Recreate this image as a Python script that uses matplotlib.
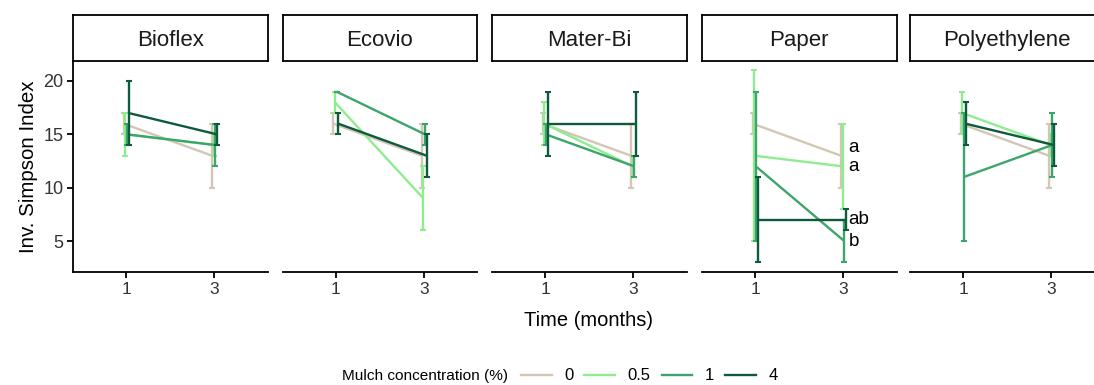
import matplotlib
matplotlib.use("Agg")
import matplotlib.pyplot as plt
from matplotlib.lines import Line2D
import numpy as np

plt.rcParams['font.family'] = ['Liberation Sans', 'DejaVu Sans']

materials = ["Bioflex", "Ecovio", "Mater-Bi", "Paper", "Polyethylene"]
times = ["1", "3"]
concentrations = ["0", "0.5", "1", "4"]

# mean, lower, upper per material: [month1, month3]
mean_0 = [[16, 13], [16, 13], [16, 13], [16, 13], [16, 13]]
low_0 = [[15, 10], [15, 10], [15, 10], [15, 10], [15, 10]]
high_0 = [[17, 16], [17, 16], [17, 16], [17, 16], [17, 16]]

mean_05 = [[15, 14], [18, 9], [16, 12], [13, 12], [17, 14]]
low_05 = [[13, 13], [17, 6], [14, 11], [5, 8], [15, 13]]
high_05 = [[17, 15], [19, 12], [18, 13], [21, 16], [19, 15]]

mean_1 = [[15, 14], [19, 15], [15, 12], [12, 5], [11, 14]]
low_1 = [[14, 12], [19, 14], [14, 11], [5, 3], [5, 11]]
high_1 = [[16, 16], [19, 16], [16, 13], [19, 7], [17, 17]]

mean_4 = [[17, 15], [16, 13], [16, 16], [7, 7], [16, 14]]
low_4 = [[14, 14], [15, 11], [13, 13], [3, 6], [14, 12]]
high_4 = [[20, 16], [17, 15], [19, 19], [11, 8], [18, 16]]

paper_letters = ["a", "a", "b", "ab"]
paper_letter_y = [13.8, 12, 5, 7]

colors = ["#D3C6B5", "#8FEC8F", "#3DA46B", "#0E5A3D"]

series = [(mean_0, low_0, high_0), (mean_05, low_05, high_05),
          (mean_1, low_1, high_1), (mean_4, low_4, high_4)]

W, H = 1094, 385
fig = plt.figure(figsize=(W / 100, H / 100), dpi=100)

panel_left = [73, 282.7, 492, 702, 910]
pw = 194.5
p_top, p_bot = 60.7, 272
s_top = 15

dodge = [-0.028, -0.009, 0.009, 0.028]
xpos = np.arange(len(times))

for mi, mat in enumerate(materials):
    l = panel_left[mi] / W
    ax = fig.add_axes([l, 1 - p_bot / H, pw / W, (p_bot - p_top) / H])
    sax = fig.add_axes([l, 1 - p_top / H, pw / W, (p_top - s_top) / H])
    sax.set_xticks([]); sax.set_yticks([])
    for sp in sax.spines.values():
        sp.set_linewidth(1.3); sp.set_color("black")
    sax.text(0.5, 0.45, mat, ha="center", va="center", fontsize=16,
             color="#1a1a1a", transform=sax.transAxes)

    for ci, (m, lo, hi) in enumerate(series):
        x = xpos + dodge[ci]
        mv = np.array(m[mi]); lv = np.array(lo[mi]); hv = np.array(hi[mi])
        ax.plot(x, mv, color=colors[ci], lw=1.7, solid_capstyle="butt", zorder=2 + ci)
        ax.errorbar(x, mv, yerr=[mv - lv, hv - mv], fmt="none", ecolor=colors[ci],
                    elinewidth=1.7, capsize=2, capthick=1.5, zorder=2 + ci)

    if mat == "Paper":
        for lab, yy in zip(paper_letters, paper_letter_y):
            ax.text(1.055, yy, lab, ha="left", va="center", fontsize=13.5, color="black")

    ax.set_xlim(-0.6, 1.6)
    ax.set_ylim(2.1, 21.9)
    ax.set_xticks(xpos)
    ax.set_xticklabels(times, fontsize=12.5, color="#333333")
    ax.set_yticks([5, 10, 15, 20])
    for sp in ["top", "right"]:
        ax.spines[sp].set_visible(False)
    ax.spines["bottom"].set_linewidth(1.3)
    ax.tick_params(axis="x", length=4, width=1.3, pad=3)
    if mi == 0:
        ax.spines["left"].set_linewidth(1.3)
        ax.tick_params(axis="y", length=4, width=1.3, labelsize=13,
                       labelcolor="#333333", pad=3)
        ax.set_ylabel("Inv. Simpson Index", fontsize=14.8, labelpad=4)
    else:
        ax.spines["left"].set_visible(False)
        ax.set_yticks([])

fig.text(588 / W, 1 - 321 / H, "Time (months)", ha="center", va="center", fontsize=14.5)

fig.text(342 / W, 1 - 376 / H, "Mulch concentration (%)", ha="left", va="center", fontsize=11.1)
handles = [Line2D([], [], color=c, lw=1.7) for c in colors]
fig.legend(handles, concentrations, loc="center left", bbox_to_anchor=(521 / W, 1 - 376 / H),
           ncol=4, frameon=False, fontsize=12, handlelength=1.85, handletextpad=0.75,
           columnspacing=0.65, borderaxespad=0, borderpad=0)

fig.savefig("out.png", dpi=100)
